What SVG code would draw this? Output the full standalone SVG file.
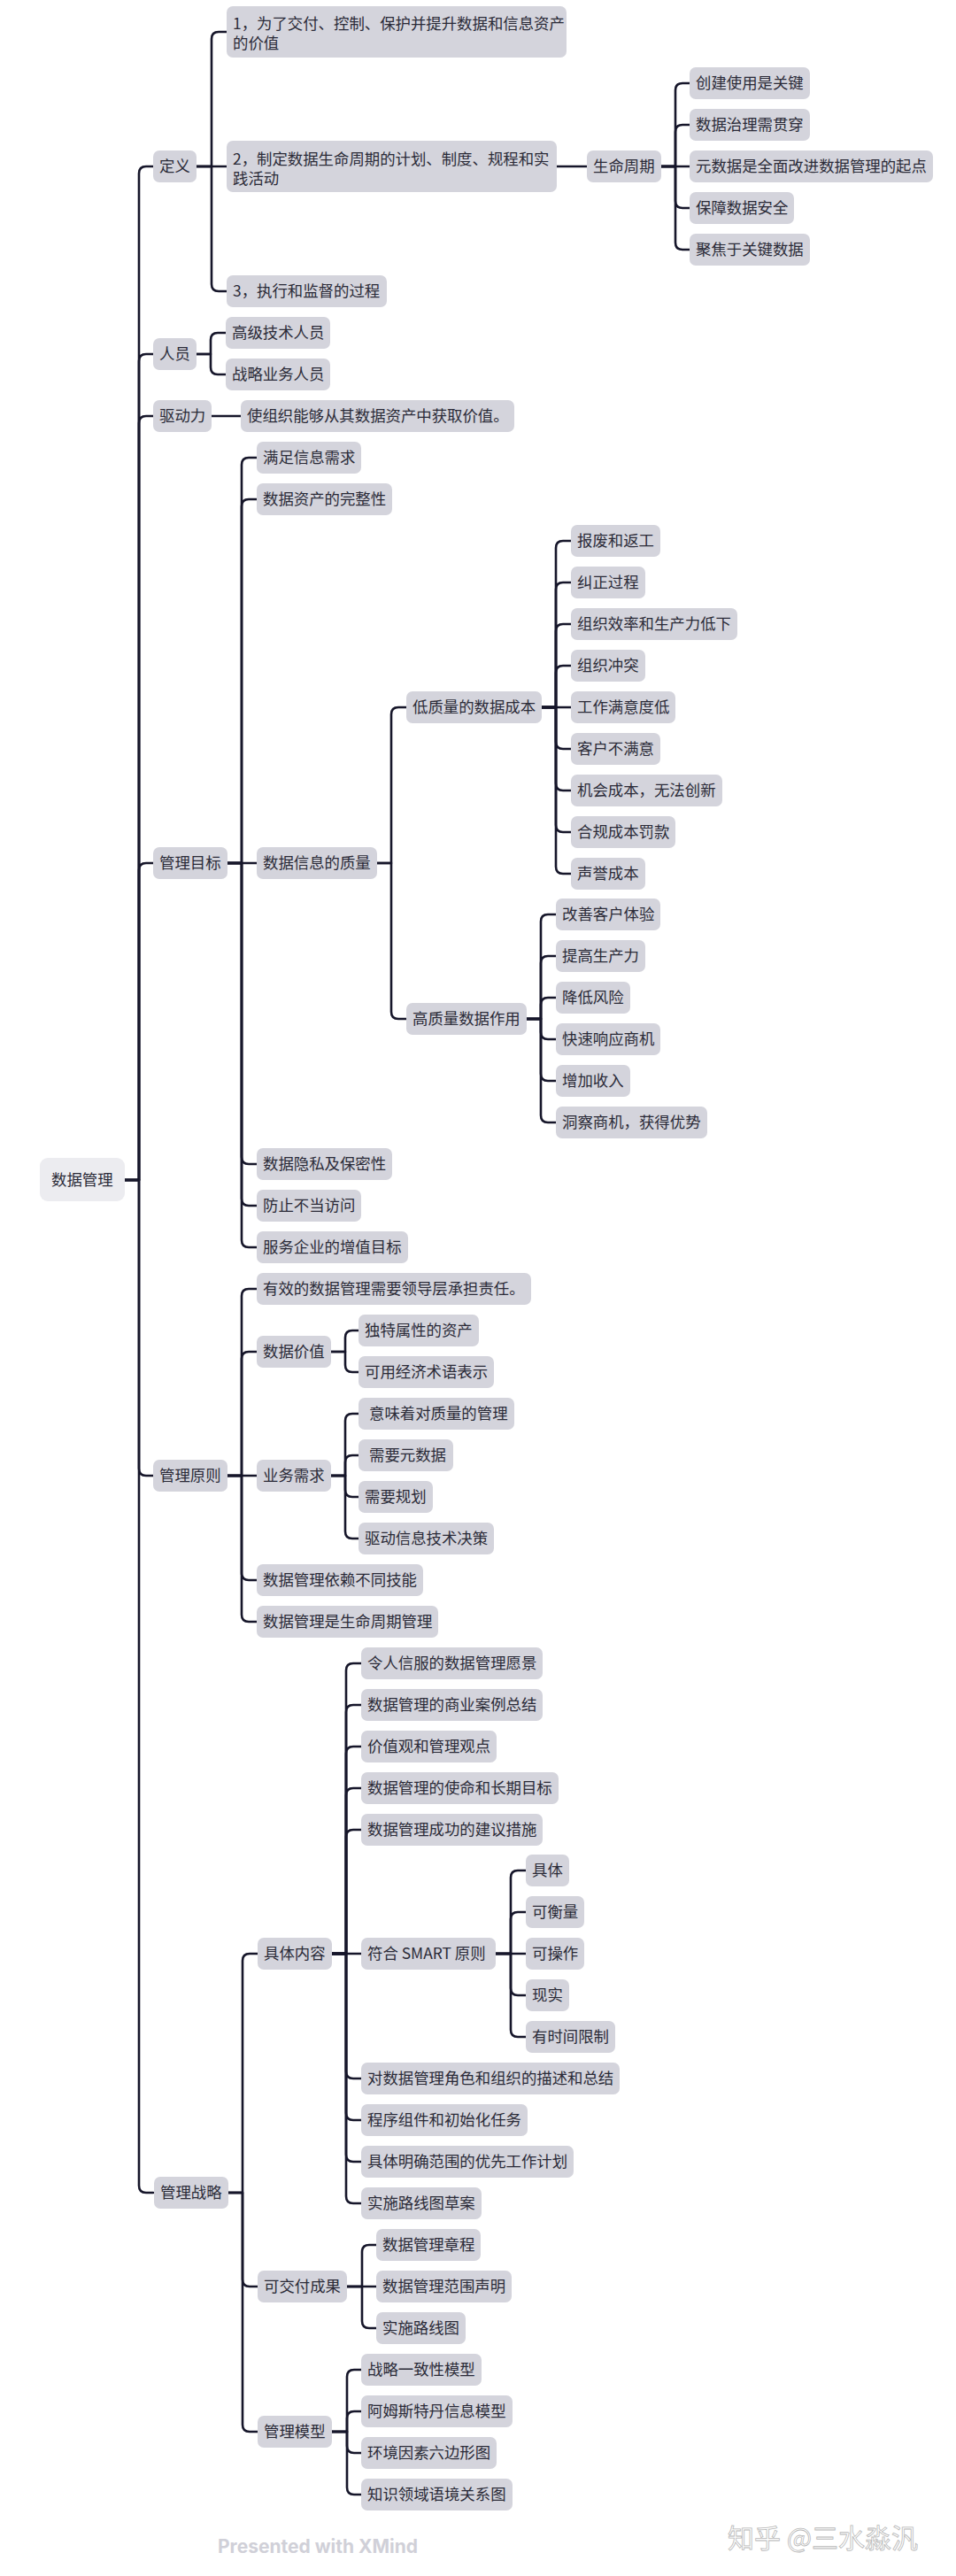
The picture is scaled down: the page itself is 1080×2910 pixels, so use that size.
<svg xmlns="http://www.w3.org/2000/svg" width="1080" height="2910" viewBox="0 0 1080 2910">
<style>
.n rect{fill:#D4D4DC}
.root rect{fill:#ECECF0}
text{font-family:"Noto Sans CJK SC","Noto Sans",sans-serif;font-size:17.4px;fill:#2B2B38}
#connectors path{fill:none;stroke:#16162A;stroke-width:2.6;stroke-linecap:round;stroke-linejoin:round}
.brand{font-family:"Inter","Liberation Sans",sans-serif;font-weight:700;font-size:21px;fill:#D0D0D8}
.wm{font-family:"Noto Sans CJK SC",sans-serif;font-size:30px;fill:#FFFFFF;stroke:#B8B8B8;stroke-width:0.8}
</style>
<rect width="1080" height="2910" fill="#FFFFFF"/>
<g id="connectors">
<path d="M141 1333 H157 V196 Q157 188 165 188 H173"/>
<path d="M141 1333 H157 V408 Q157 400 165 400 H173"/>
<path d="M141 1333 H157 V478 Q157 470 165 470 H173"/>
<path d="M141 1333 H157 V983 Q157 975 165 975 H173"/>
<path d="M141 1333 H157 V1659 Q157 1667 165 1667 H173"/>
<path d="M141 1333 H157 V2469 Q157 2477 165 2477 H173"/>
<path d="M222 188 H239 V44 Q239 36 247 36 H256"/>
<path d="M222 188 H256"/>
<path d="M222 188 H239 V321 Q239 329 247 329 H256"/>
<path d="M629 188 H663"/>
<path d="M747 188 H763 V102 Q763 94 771 94 H779"/>
<path d="M747 188 H763 V149 Q763 141 771 141 H779"/>
<path d="M747 188 H779"/>
<path d="M747 188 H763 V227 Q763 235 771 235 H779"/>
<path d="M747 188 H763 V274 Q763 282 771 282 H779"/>
<path d="M222 400 H238 V384 Q238 376 246 376 H255"/>
<path d="M222 400 H238 V415 Q238 423 246 423 H255"/>
<path d="M239 470 H272"/>
<path d="M257 975 H273 V525 Q273 517 281 517 H290"/>
<path d="M257 975 H273 V572 Q273 564 281 564 H290"/>
<path d="M257 975 H290"/>
<path d="M257 975 H273 V1307 Q273 1315 281 1315 H290"/>
<path d="M257 975 H273 V1354 Q273 1362 281 1362 H290"/>
<path d="M257 975 H273 V1401 Q273 1409 281 1409 H290"/>
<path d="M426 975 H442 V807 Q442 799 450 799 H459"/>
<path d="M426 975 H442 V1143 Q442 1151 450 1151 H459"/>
<path d="M612 799 H628 V619 Q628 611 636 611 H645"/>
<path d="M612 799 H628 V666 Q628 658 636 658 H645"/>
<path d="M612 799 H628 V713 Q628 705 636 705 H645"/>
<path d="M612 799 H628 V760 Q628 752 636 752 H645"/>
<path d="M612 799 H645"/>
<path d="M612 799 H628 V838 Q628 846 636 846 H645"/>
<path d="M612 799 H628 V885 Q628 893 636 893 H645"/>
<path d="M612 799 H628 V932 Q628 940 636 940 H645"/>
<path d="M612 799 H628 V979 Q628 987 636 987 H645"/>
<path d="M595 1151 H611 V1041 Q611 1033 619 1033 H628"/>
<path d="M595 1151 H611 V1088 Q611 1080 619 1080 H628"/>
<path d="M595 1151 H611 V1135 Q611 1127 619 1127 H628"/>
<path d="M595 1151 H611 V1166 Q611 1174 619 1174 H628"/>
<path d="M595 1151 H611 V1213 Q611 1221 619 1221 H628"/>
<path d="M595 1151 H611 V1260 Q611 1268 619 1268 H628"/>
<path d="M257 1667 H273 V1464 Q273 1456 281 1456 H290"/>
<path d="M257 1667 H273 V1535 Q273 1527 281 1527 H290"/>
<path d="M257 1667 H290"/>
<path d="M257 1667 H273 V1777 Q273 1785 281 1785 H290"/>
<path d="M257 1667 H273 V1824 Q273 1832 281 1832 H290"/>
<path d="M374 1527 H390 V1511 Q390 1503 398 1503 H405"/>
<path d="M374 1527 H390 V1542 Q390 1550 398 1550 H405"/>
<path d="M374 1667 H390 V1605 Q390 1597 398 1597 H405"/>
<path d="M374 1667 H390 V1652 Q390 1644 398 1644 H405"/>
<path d="M374 1667 H390 V1683 Q390 1691 398 1691 H405"/>
<path d="M374 1667 H390 V1730 Q390 1738 398 1738 H405"/>
<path d="M258 2477 H274 V2215 Q274 2207 282 2207 H291"/>
<path d="M258 2477 H274 V2575 Q274 2583 282 2583 H291"/>
<path d="M258 2477 H274 V2739 Q274 2747 282 2747 H291"/>
<path d="M375 2207 H391 V1887 Q391 1879 399 1879 H408"/>
<path d="M375 2207 H391 V1934 Q391 1926 399 1926 H408"/>
<path d="M375 2207 H391 V1981 Q391 1973 399 1973 H408"/>
<path d="M375 2207 H391 V2028 Q391 2020 399 2020 H408"/>
<path d="M375 2207 H391 V2075 Q391 2067 399 2067 H408"/>
<path d="M375 2207 H408"/>
<path d="M375 2207 H391 V2340 Q391 2348 399 2348 H408"/>
<path d="M375 2207 H391 V2387 Q391 2395 399 2395 H408"/>
<path d="M375 2207 H391 V2434 Q391 2442 399 2442 H408"/>
<path d="M375 2207 H391 V2481 Q391 2489 399 2489 H408"/>
<path d="M560 2207 H577 V2121 Q577 2113 585 2113 H594"/>
<path d="M560 2207 H577 V2168 Q577 2160 585 2160 H594"/>
<path d="M560 2207 H594"/>
<path d="M560 2207 H577 V2246 Q577 2254 585 2254 H594"/>
<path d="M560 2207 H577 V2293 Q577 2301 585 2301 H594"/>
<path d="M392 2583 H409 V2544 Q409 2536 417 2536 H425"/>
<path d="M392 2583 H425"/>
<path d="M392 2583 H409 V2622 Q409 2630 417 2630 H425"/>
<path d="M375 2747 H392 V2685 Q392 2677 400 2677 H408"/>
<path d="M375 2747 H392 V2732 Q392 2724 400 2724 H408"/>
<path d="M375 2747 H392 V2763 Q392 2771 400 2771 H408"/>
<path d="M375 2747 H392 V2810 Q392 2818 400 2818 H408"/>
</g>

<g id="root" class="root"><rect x="45" y="1308" width="96" height="49" rx="9"/><text x="58" y="1339">数据管理</text></g>

<g id="dingyi" class="n"><rect x="173" y="170" width="49" height="36" rx="7"/><text x="180" y="194">定义</text></g>
<g id="renyuan" class="n"><rect x="173" y="382" width="49" height="36" rx="7"/><text x="180" y="406">人员</text></g>
<g id="qudongli" class="n"><rect x="173" y="452" width="66" height="36" rx="7"/><text x="180" y="476">驱动力</text></g>
<g id="guanlimubiao" class="n"><rect x="173" y="957" width="84" height="36" rx="7"/><text x="180" y="981">管理目标</text></g>
<g id="guanliyuanze" class="n"><rect x="173" y="1649" width="84" height="36" rx="7"/><text x="180" y="1673">管理原则</text></g>
<g id="guanlizhanlue" class="n"><rect x="174" y="2459" width="84" height="36" rx="7"/><text x="181" y="2483">管理战略</text></g>

<g id="def1" class="n"><rect x="256" y="7" width="384" height="58" rx="7"/><text x="263" y="33">1，为了交付、控制、保护并提升数据和信息资产</text><text x="263" y="55">的价值</text></g>
<g id="def2" class="n"><rect x="256" y="159" width="373" height="58" rx="7"/><text x="263" y="186">2，制定数据生命周期的计划、制度、规程和实</text><text x="263" y="208">践活动</text></g>
<g id="def3" class="n"><rect x="256" y="311" width="181" height="36" rx="7"/><text x="263" y="335">3，执行和监督的过程</text></g>
<g id="shengmingzhouqi" class="n"><rect x="663" y="170" width="84" height="36" rx="7"/><text x="670" y="194">生命周期</text></g>
<g id="lc1" class="n"><rect x="779" y="76" width="136" height="36" rx="7"/><text x="786" y="100">创建使用是关键</text></g>
<g id="lc2" class="n"><rect x="779" y="123" width="136" height="36" rx="7"/><text x="786" y="147">数据治理需贯穿</text></g>
<g id="lc3" class="n"><rect x="779" y="170" width="275" height="36" rx="7"/><text x="786" y="194">元数据是全面改进数据管理的起点</text></g>
<g id="lc4" class="n"><rect x="779" y="217" width="118" height="36" rx="7"/><text x="786" y="241">保障数据安全</text></g>
<g id="lc5" class="n"><rect x="779" y="264" width="136" height="36" rx="7"/><text x="786" y="288">聚焦于关键数据</text></g>

<g id="ry1" class="n"><rect x="255" y="358" width="118" height="36" rx="7"/><text x="262" y="382">高级技术人员</text></g>
<g id="ry2" class="n"><rect x="255" y="405" width="118" height="36" rx="7"/><text x="262" y="429">战略业务人员</text></g>
<g id="qd1" class="n"><rect x="272" y="452" width="309" height="36" rx="7"/><text x="279" y="476">使组织能够从其数据资产中获取价值。</text></g>

<g id="mb1" class="n"><rect x="290" y="499" width="118" height="36" rx="7"/><text x="297" y="523">满足信息需求</text></g>
<g id="mb2" class="n"><rect x="290" y="546" width="153" height="36" rx="7"/><text x="297" y="570">数据资产的完整性</text></g>
<g id="mb3" class="n"><rect x="290" y="957" width="136" height="36" rx="7"/><text x="297" y="981">数据信息的质量</text></g>
<g id="mb4" class="n"><rect x="290" y="1297" width="153" height="36" rx="7"/><text x="297" y="1321">数据隐私及保密性</text></g>
<g id="mb5" class="n"><rect x="290" y="1344" width="118" height="36" rx="7"/><text x="297" y="1368">防止不当访问</text></g>
<g id="mb6" class="n"><rect x="290" y="1391" width="171" height="36" rx="7"/><text x="297" y="1415">服务企业的增值目标</text></g>

<g id="dizhiliang" class="n"><rect x="459" y="781" width="153" height="36" rx="7"/><text x="466" y="805">低质量的数据成本</text></g>
<g id="gaozhiliang" class="n"><rect x="459" y="1133" width="136" height="36" rx="7"/><text x="466" y="1157">高质量数据作用</text></g>

<g id="dz1" class="n"><rect x="645" y="593" width="101" height="36" rx="7"/><text x="652" y="617">报废和返工</text></g>
<g id="dz2" class="n"><rect x="645" y="640" width="84" height="36" rx="7"/><text x="652" y="664">纠正过程</text></g>
<g id="dz3" class="n"><rect x="645" y="687" width="188" height="36" rx="7"/><text x="652" y="711">组织效率和生产力低下</text></g>
<g id="dz4" class="n"><rect x="645" y="734" width="84" height="36" rx="7"/><text x="652" y="758">组织冲突</text></g>
<g id="dz5" class="n"><rect x="645" y="781" width="118" height="36" rx="7"/><text x="652" y="805">工作满意度低</text></g>
<g id="dz6" class="n"><rect x="645" y="828" width="101" height="36" rx="7"/><text x="652" y="852">客户不满意</text></g>
<g id="dz7" class="n"><rect x="645" y="875" width="171" height="36" rx="7"/><text x="652" y="899">机会成本，无法创新</text></g>
<g id="dz8" class="n"><rect x="645" y="922" width="118" height="36" rx="7"/><text x="652" y="946">合规成本罚款</text></g>
<g id="dz9" class="n"><rect x="645" y="969" width="84" height="36" rx="7"/><text x="652" y="993">声誉成本</text></g>

<g id="gz1" class="n"><rect x="628" y="1015" width="118" height="36" rx="7"/><text x="635" y="1039">改善客户体验</text></g>
<g id="gz2" class="n"><rect x="628" y="1062" width="101" height="36" rx="7"/><text x="635" y="1086">提高生产力</text></g>
<g id="gz3" class="n"><rect x="628" y="1109" width="84" height="36" rx="7"/><text x="635" y="1133">降低风险</text></g>
<g id="gz4" class="n"><rect x="628" y="1156" width="118" height="36" rx="7"/><text x="635" y="1180">快速响应商机</text></g>
<g id="gz5" class="n"><rect x="628" y="1203" width="84" height="36" rx="7"/><text x="635" y="1227">增加收入</text></g>
<g id="gz6" class="n"><rect x="628" y="1250" width="171" height="36" rx="7"/><text x="635" y="1274">洞察商机，获得优势</text></g>

<g id="yz1" class="n"><rect x="290" y="1438" width="310" height="36" rx="7"/><text x="297" y="1462">有效的数据管理需要领导层承担责任。</text></g>
<g id="yz2" class="n"><rect x="290" y="1509" width="84" height="36" rx="7"/><text x="297" y="1533">数据价值</text></g>
<g id="yz3" class="n"><rect x="290" y="1649" width="84" height="36" rx="7"/><text x="297" y="1673">业务需求</text></g>
<g id="yz4" class="n"><rect x="290" y="1767" width="188" height="36" rx="7"/><text x="297" y="1791">数据管理依赖不同技能</text></g>
<g id="yz5" class="n"><rect x="290" y="1814" width="205" height="36" rx="7"/><text x="297" y="1838">数据管理是生命周期管理</text></g>

<g id="jz1" class="n"><rect x="405" y="1485" width="136" height="36" rx="7"/><text x="412" y="1509">独特属性的资产</text></g>
<g id="jz2" class="n"><rect x="405" y="1532" width="153" height="36" rx="7"/><text x="412" y="1556">可用经济术语表示</text></g>
<g id="xq1" class="n"><rect x="405" y="1579" width="176" height="36" rx="7"/><text x="417" y="1603">意味着对质量的管理</text></g>
<g id="xq2" class="n"><rect x="405" y="1626" width="107" height="36" rx="7"/><text x="417" y="1650">需要元数据</text></g>
<g id="xq3" class="n"><rect x="405" y="1673" width="84" height="36" rx="7"/><text x="412" y="1697">需要规划</text></g>
<g id="xq4" class="n"><rect x="405" y="1720" width="153" height="36" rx="7"/><text x="412" y="1744">驱动信息技术决策</text></g>

<g id="jutineirong" class="n"><rect x="291" y="2189" width="84" height="36" rx="7"/><text x="298" y="2213">具体内容</text></g>
<g id="kejiaofu" class="n"><rect x="291" y="2565" width="101" height="36" rx="7"/><text x="298" y="2589">可交付成果</text></g>
<g id="guanlimoxing" class="n"><rect x="291" y="2729" width="84" height="36" rx="7"/><text x="298" y="2753">管理模型</text></g>

<g id="nr1" class="n"><rect x="408" y="1861" width="205" height="36" rx="7"/><text x="415" y="1885">令人信服的数据管理愿景</text></g>
<g id="nr2" class="n"><rect x="408" y="1908" width="205" height="36" rx="7"/><text x="415" y="1932">数据管理的商业案例总结</text></g>
<g id="nr3" class="n"><rect x="408" y="1955" width="153" height="36" rx="7"/><text x="415" y="1979">价值观和管理观点</text></g>
<g id="nr4" class="n"><rect x="408" y="2002" width="223" height="36" rx="7"/><text x="415" y="2026">数据管理的使命和长期目标</text></g>
<g id="nr5" class="n"><rect x="408" y="2049" width="205" height="36" rx="7"/><text x="415" y="2073">数据管理成功的建议措施</text></g>
<g id="smart" class="n"><rect x="408" y="2189" width="152" height="36" rx="7"/><text x="415" y="2213">符合 SMART 原则</text></g>
<g id="nr7" class="n"><rect x="408" y="2330" width="292" height="36" rx="7"/><text x="415" y="2354">对数据管理角色和组织的描述和总结</text></g>
<g id="nr8" class="n"><rect x="408" y="2377" width="188" height="36" rx="7"/><text x="415" y="2401">程序组件和初始化任务</text></g>
<g id="nr9" class="n"><rect x="408" y="2424" width="240" height="36" rx="7"/><text x="415" y="2448">具体明确范围的优先工作计划</text></g>
<g id="nr10" class="n"><rect x="408" y="2471" width="136" height="36" rx="7"/><text x="415" y="2495">实施路线图草案</text></g>

<g id="sm1" class="n"><rect x="594" y="2095" width="49" height="36" rx="7"/><text x="601" y="2119">具体</text></g>
<g id="sm2" class="n"><rect x="594" y="2142" width="66" height="36" rx="7"/><text x="601" y="2166">可衡量</text></g>
<g id="sm3" class="n"><rect x="594" y="2189" width="66" height="36" rx="7"/><text x="601" y="2213">可操作</text></g>
<g id="sm4" class="n"><rect x="594" y="2236" width="49" height="36" rx="7"/><text x="601" y="2260">现实</text></g>
<g id="sm5" class="n"><rect x="594" y="2283" width="101" height="36" rx="7"/><text x="601" y="2307">有时间限制</text></g>

<g id="jf1" class="n"><rect x="425" y="2518" width="118" height="36" rx="7"/><text x="432" y="2542">数据管理章程</text></g>
<g id="jf2" class="n"><rect x="425" y="2565" width="153" height="36" rx="7"/><text x="432" y="2589">数据管理范围声明</text></g>
<g id="jf3" class="n"><rect x="425" y="2612" width="101" height="36" rx="7"/><text x="432" y="2636">实施路线图</text></g>

<g id="mx1" class="n"><rect x="408" y="2659" width="136" height="36" rx="7"/><text x="415" y="2683">战略一致性模型</text></g>
<g id="mx2" class="n"><rect x="408" y="2706" width="171" height="36" rx="7"/><text x="415" y="2730">阿姆斯特丹信息模型</text></g>
<g id="mx3" class="n"><rect x="408" y="2753" width="153" height="36" rx="7"/><text x="415" y="2777">环境因素六边形图</text></g>
<g id="mx4" class="n"><rect x="408" y="2800" width="171" height="36" rx="7"/><text x="415" y="2824">知识领域语境关系图</text></g>

<text class="brand" x="246" y="2884">Presented with XMind</text>
<text class="wm" x="822" y="2878">知乎 @三水淼汎</text>
</svg>
